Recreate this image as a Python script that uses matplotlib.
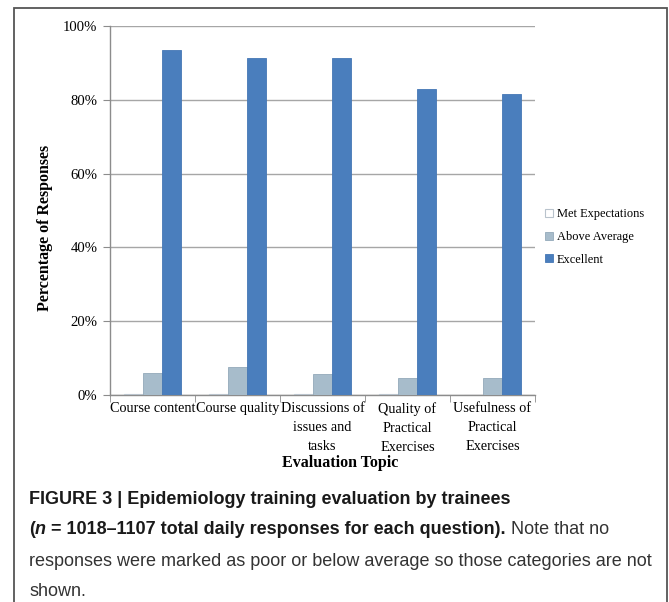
import matplotlib
matplotlib.use("Agg")
import matplotlib.pyplot as plt
from matplotlib.patches import Rectangle
from matplotlib.ticker import PercentFormatter
import numpy as np

# Evaluation results (% of daily responses per topic)
topics = ["Course content", "Course quality", "Discussions of\nissues and\ntasks",
          "Quality of\nPractical\nExercises", "Usefulness of\nPractical\nExercises"]
met_expectations = [0.3, 0.3, 0.3, 0.3, 0.0]
above_average = [6.0, 7.7, 5.6, 4.5, 4.7]
excellent = [93.6, 91.3, 91.3, 83.0, 81.7]
series_names = ["Met Expectations", "Above Average", "Excellent"]

W, H = 669, 602
serif = ["Liberation Serif", "DejaVu Serif"]
narrow = ["Liberation Sans Narrow", "Liberation Sans", "DejaVu Sans"]

fig = plt.figure(figsize=(W / 100, H / 100), dpi=100)
ax = fig.add_axes([110 / W, 1 - 395 / H, 425 / W, 369 / H])

x = np.arange(len(topics))
bw = 0.225
ax.bar(x - bw, met_expectations, bw, color="white", edgecolor="#b9c3cc", linewidth=0.8,
       label=series_names[0], zorder=3)
ax.bar(x, above_average, bw, color="#a7bccb", edgecolor="#93a9ba", linewidth=0.6,
       label=series_names[1], zorder=3)
ax.bar(x + bw, excellent, bw, color="#4a7ebd", edgecolor="#4577b5", linewidth=0.6,
       label=series_names[2], zorder=3)

ax.set_ylim(0, 100)
ax.set_xlim(-0.5, len(topics) - 0.5)
ax.set_yticks(np.arange(0, 101, 20))
ax.yaxis.set_major_formatter(PercentFormatter(decimals=0))
ax.yaxis.grid(True, color="#a6a6a6", linewidth=1.0, zorder=0)

ax.set_xticks(x)
ax.set_xticklabels(topics, fontfamily=serif, fontsize=10.3, linespacing=1.6)
ax.set_xticks(np.arange(-0.5, len(topics), 1.0), minor=True)
ax.tick_params(axis="x", which="major", length=0, pad=5)
ax.tick_params(axis="x", which="minor", length=5, color="#8c8c8c", direction="out")
ax.tick_params(axis="y", length=5, color="#8c8c8c", pad=4, labelsize=10.6)
for lbl in ax.get_yticklabels():
    lbl.set_fontfamily(serif)

for side in ["top", "right"]:
    ax.spines[side].set_visible(False)
for side in ["left", "bottom"]:
    ax.spines[side].set_color("#8c8c8c")
    ax.spines[side].set_linewidth(1.0)

fig.text(45 / W, 1 - 228 / H, "Percentage of Responses", rotation=90, ha="center",
         va="center", fontfamily=serif, fontweight="bold", fontsize=11.5)
fig.text(340 / W, 1 - 463 / H, "Evaluation Topic", ha="center", va="center",
         fontfamily=serif, fontweight="bold", fontsize=11.5)

leg = ax.legend(loc="center left", bbox_to_anchor=(540 / W, 1 - 237 / H),
                bbox_transform=fig.transFigure, frameon=False,
                prop={"family": serif, "size": 8.9}, handlelength=0.65,
                handleheight=0.65, handletextpad=0.3, labelspacing=0.85,
                borderaxespad=0)

# Outer frame around chart and caption
fig.patches.append(Rectangle((14 / W, -0.01), 653 / W, 1 - 8 / H + 0.01,
                             transform=fig.transFigure, fill=False,
                             edgecolor="#555555", linewidth=1.3))

# Caption, built segment by segment so bold and regular runs line up
fs = 13
renderer = fig.canvas.get_renderer()


def put_runs(y_px, runs, x_px=29):
    xpos = x_px / W
    for text, weight, style in runs:
        t = fig.text(xpos, 1 - y_px / H, text, ha="left", va="center",
                     fontfamily=narrow, fontsize=fs, fontweight=weight,
                     fontstyle=style, color="#1a1a1a" if weight == "bold" else "#333333")
        bb = t.get_window_extent(renderer=renderer)
        xpos = bb.x1 / W


put_runs(500, [("FIGURE 3 | Epidemiology training evaluation by trainees", "bold", "normal")])
put_runs(530, [("(", "bold", "normal"), ("n", "bold", "italic"),
               (" = 1018\u20131107 total daily responses for each question).", "bold", "normal"),
               (" Note that no", "normal", "normal")])
put_runs(561, [("responses were marked as poor or below average so those categories are not",
                "normal", "normal")])
put_runs(591, [("shown.", "normal", "normal")])

fig.savefig("out.png", dpi=100, facecolor="white")
